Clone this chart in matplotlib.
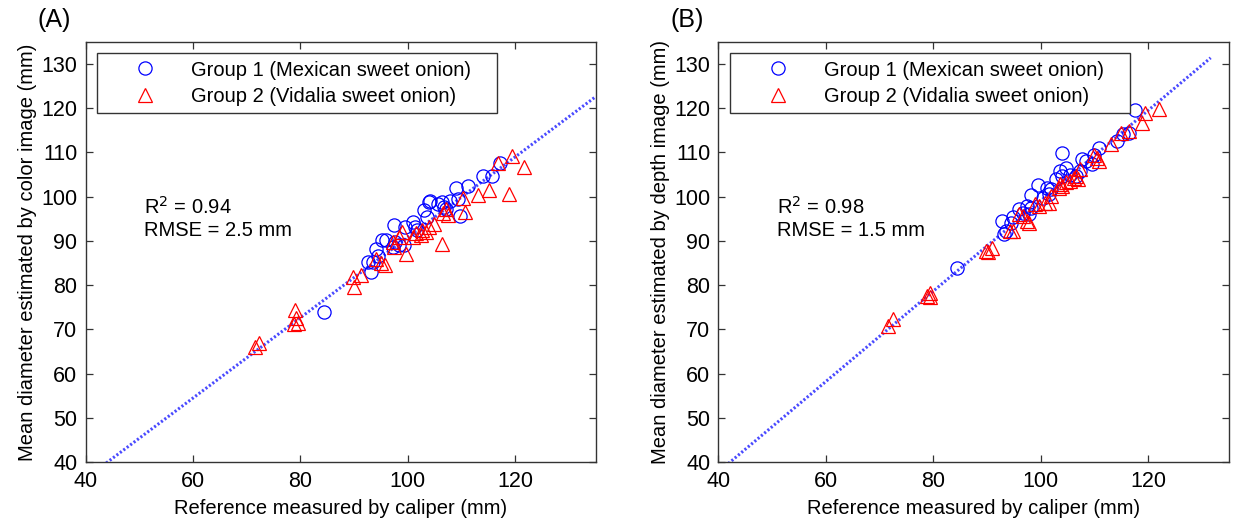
import numpy as np
import matplotlib
matplotlib.use("Agg")
from matplotlib import pyplot as plt

plt.rcParams['font.family'] = ['Liberation Sans', 'DejaVu Sans']

# --- (A) color image: group 1 (Mexican) ---
a_g1_ref = [84.3, 92.5, 93.1, 93.6, 94.1, 94.4, 95.2, 95.9, 97.2, 97.4, 97.6, 98.3,
            99.3, 99.4, 100.9, 101.3, 101.7, 103.1, 103.5, 103.9, 104.2, 105.7,
            106.4, 106.8, 107.2, 107.9, 109.0, 109.4, 109.7, 111.2, 114.1, 115.6, 117.1]
a_g1_est = [74.0, 85.2, 83.0, 85.2, 88.1, 86.7, 90.3, 90.2, 88.6, 93.5, 89.7, 89.0,
            89.0, 93.1, 94.2, 93.1, 92.4, 96.9, 95.4, 98.7, 99.1, 98.4,
            98.7, 97.6, 97.2, 99.1, 102.0, 99.5, 95.7, 102.5, 104.7, 104.7, 107.7]

# --- (A) color image: group 2 (Vidalia) ---
a_g2_ref = [71.6, 72.3, 78.8, 79.0, 79.2, 79.5, 89.8, 89.9, 91.2, 94.0, 95.0, 95.8,
            97.2, 97.5, 98.4, 99.0, 99.7, 100.9, 101.5, 102.4, 102.7, 103.4, 104.0,
            104.9, 106.3, 106.5, 107.1, 107.4, 110.2, 110.6, 113.0, 115.1, 116.8,
            118.9, 119.5, 121.7]
a_g2_est = [66.1, 67.0, 71.2, 74.3, 72.6, 71.5, 81.8, 79.7, 82.3, 86.0, 85.0, 84.5,
            89.8, 88.7, 90.9, 92.0, 87.1, 90.9, 91.7, 91.3, 92.4, 92.0, 93.2,
            93.9, 89.2, 96.2, 97.3, 95.8, 99.6, 96.5, 100.4, 101.4, 107.6,
            100.6, 109.2, 106.8]

# --- (B) depth image: group 1 ---
b_g1_ref = [84.4, 92.7, 93.1, 93.5, 94.5, 94.9, 96.0, 96.7, 97.5, 97.8, 98.2, 98.2,
            99.5, 100.4, 101.1, 101.5, 101.8, 102.9, 103.6, 103.9, 104.0, 104.7,
            105.5, 106.5, 107.3, 107.6, 108.4, 109.5, 109.8, 110.9, 114.2, 115.3,
            116.4, 117.5]
b_g1_est = [83.8, 94.5, 91.5, 92.3, 94.1, 95.3, 97.1, 96.4, 97.9, 96.0, 97.5, 100.3,
            102.6, 99.8, 102.0, 100.5, 101.7, 103.9, 105.8, 109.9, 104.7, 106.5,
            105.0, 104.7, 105.8, 108.4, 108.0, 107.3, 109.5, 111.1, 112.6, 114.1,
            114.4, 119.5]

# --- (B) depth image: group 2 ---
b_g2_ref = [71.6, 72.4, 78.9, 79.3, 79.3, 89.8, 90.2, 90.9, 94.2, 94.9, 96.0, 96.7,
            97.5, 97.8, 98.9, 99.6, 100.7, 101.5, 101.8, 103.3, 103.6, 104.0, 104.7,
            105.5, 106.2, 106.5, 106.9, 107.3, 109.8, 110.5, 110.9, 113.1, 114.9,
            116.4, 118.9, 119.3, 122.0]
b_g2_est = [70.8, 72.3, 77.6, 78.3, 77.4, 87.7, 87.6, 88.5, 92.3, 92.3, 96.0, 95.6,
            94.5, 94.1, 98.3, 97.9, 98.6, 98.6, 100.2, 102.0, 102.8, 102.4, 103.2,
            103.5, 104.3, 104.7, 103.9, 106.2, 109.5, 108.8, 108.0, 111.8, 114.4,
            114.8, 116.7, 119.0, 119.9]

# regression lines (slope, intercept, x start, x end)
a_fit = (0.9075, 0.07, 40, 135)
b_fit = (1.021, -3.0, 40, 131.6)

a_stats = ["0.94", "2.5"]
b_stats = ["0.98", "1.5"]

xticks = [40, 60, 80, 100, 120]
yticks = [40, 50, 60, 70, 80, 90, 100, 110, 120, 130]

fs = 14.5

fig = plt.figure(figsize=(12.33, 5.22), dpi=100)
ax_a = fig.add_axes([0.0695, 0.1144, 0.4136, 0.8057])
ax_b = fig.add_axes([0.5827, 0.1144, 0.4140, 0.8057])

panels = [
    (ax_a, a_g1_ref, a_g1_est, a_g2_ref, a_g2_est, a_fit, a_stats, "color", "(A)"),
    (ax_b, b_g1_ref, b_g1_est, b_g2_ref, b_g2_est, b_fit, b_stats, "depth", "(B)"),
]

for ax, g1x, g1y, g2x, g2y, fit, stats, kind, tag in panels:
    slope, icpt, x0, x1 = fit
    xs = np.array([x0, x1])
    ax.plot(xs, slope * xs + icpt, linestyle=(0, (0.7, 0.7)), color='#4a4aff',
            lw=2.2, zorder=1)

    ax.plot(g1x, g1y, 'o', ms=9.5, mfc='none', mec='#0000ff', mew=0.9,
            label='Group 1 (Mexican sweet onion)', zorder=2)
    ax.plot(g2x, g2y, '^', ms=10, mfc='none', mec='#ff0000', mew=0.9,
            label='Group 2 (Vidalia sweet onion)', zorder=3)

    ax.set_xlim(40, 135)
    ax.set_ylim(40, 135)
    ax.set_xticks(xticks)
    ax.set_yticks(yticks)
    ax.tick_params(direction='in', length=5, width=0.9, top=True, right=True,
                   labelsize=15.5, pad=6, color='#333333')
    for sp in ax.spines.values():
        sp.set_color('#333333')
        sp.set_linewidth(1.0)

    ax.set_xlabel('Reference measured by caliper (mm)', fontsize=fs, labelpad=5)
    ax.set_ylabel(f'Mean diameter estimated by {kind} image (mm)', fontsize=fs, labelpad=3)

    ax.text(50.9, 97.6, f'R$^2$ = {stats[0]}', fontsize=fs, va='center')
    ax.text(50.9, 92.4, f'RMSE = {stats[1]} mm', fontsize=fs, va='center')

    leg = ax.legend(loc='upper left', bbox_to_anchor=(0.023, 0.5, 0.784, 0.472),
                    mode='expand', fontsize=fs,
                    handlelength=4.0, handletextpad=0.3, borderpad=0.35,
                    labelspacing=0.35, fancybox=False, framealpha=1,
                    edgecolor='#333333', borderaxespad=0)
    leg.get_frame().set_linewidth(1.0)

    ax.text(-0.094, 1.052, tag, transform=ax.transAxes, fontsize=18,
            va='center', ha='left')

fig.savefig('out.png', dpi=100)
